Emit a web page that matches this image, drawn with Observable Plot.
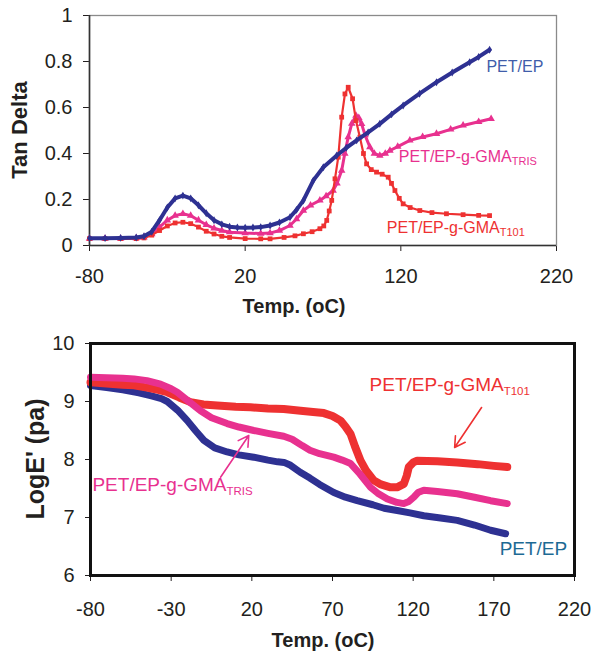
<!DOCTYPE html>
<html><head><meta charset="utf-8">
<script src="https://cdn.jsdelivr.net/npm/d3@7"></script>
<script src="https://cdn.jsdelivr.net/npm/@observablehq/plot@0.6"></script>
<style>
body{margin:0;background:#fff;}
#wrap{width:591px;height:655px;}
#wrap svg{display:block;}
</style></head><body><div id="wrap"></div>
<script>
// ---------- data (temperature °C, value) ----------
const tempTicksTop = [-80, 20, 120, 220];
const tanTicks = [0, 0.2, 0.4, 0.6, 0.8, 1];
const tempTicksBottom = [-80, -30, 20, 70, 120, 170, 220];
const logTicks = [6, 7, 8, 9, 10];

const tanPETEP = [[-80,0.032],[-70,0.032],[-60,0.033],[-50,0.035],[-45,0.04],[-40,0.06],[-35,0.11],[-30,0.165],[-25,0.205],[-20,0.217],[-15,0.205],[-10,0.175],[-5,0.14],[0,0.11],[5,0.092],[10,0.082],[15,0.078],[20,0.077],[25,0.078],[30,0.08],[36,0.087],[42,0.1],[48.8,0.123],[53,0.155],[57.4,0.196],[63.8,0.283],[70.2,0.34],[78.8,0.391],[85,0.425],[91.6,0.457],[99,0.492],[106.5,0.529],[114,0.57],[121.5,0.609],[132,0.66],[142.9,0.71],[153,0.752],[164.2,0.797],[170,0.82],[177,0.851]];
const tanTRIS = [[-80,0.03],[-70,0.03],[-60,0.03],[-50,0.032],[-45,0.036],[-40,0.05],[-35,0.08],[-30,0.11],[-25,0.13],[-20,0.138],[-15,0.13],[-10,0.11],[-5,0.09],[0,0.075],[5,0.065],[10,0.058],[20,0.054],[30,0.052],[36,0.054],[42,0.065],[48.8,0.087],[53,0.115],[57.4,0.152],[62,0.175],[68,0.196],[72,0.215],[76.5,0.239],[79,0.27],[82,0.326],[84,0.4],[86.2,0.471],[88.5,0.53],[91.2,0.565],[93,0.555],[94.8,0.529],[97,0.48],[100.1,0.428],[103,0.4],[106.5,0.391],[110,0.4],[113,0.413],[118,0.43],[125.8,0.457],[134,0.472],[142.9,0.486],[152,0.505],[160,0.522],[170,0.538],[178,0.551]];
const tanT101 = [[-80,0.03],[-70,0.03],[-60,0.03],[-50,0.03],[-45,0.033],[-40,0.045],[-35,0.065],[-30,0.085],[-25,0.098],[-20,0.101],[-15,0.095],[-10,0.08],[-5,0.062],[0,0.05],[5,0.04],[10,0.035],[20,0.03],[30,0.029],[36,0.029],[45,0.035],[52,0.042],[57.4,0.051],[63,0.06],[68,0.073],[70.5,0.085],[72.4,0.109],[74,0.15],[75.6,0.196],[77.7,0.29],[79.8,0.384],[82,0.558],[84.1,0.659],[86.2,0.688],[89,0.638],[91.2,0.543],[93.7,0.471],[96,0.4],[98,0.355],[101,0.33],[104.4,0.319],[108,0.31],[111.9,0.297],[114,0.27],[116.2,0.239],[119,0.205],[121.5,0.181],[126,0.165],[132.2,0.152],[140,0.143],[149.3,0.138],[160,0.134],[170,0.131],[177,0.13]];

const logPETEP = [[-80,9.276],[-70,9.24],[-60,9.2],[-50,9.15],[-42.8,9.1],[-36,9.05],[-32.4,9.0],[-26,8.85],[-20,8.67],[-15,8.5],[-9.7,8.33],[-3,8.2],[4.7,8.13],[12,8.08],[21.2,8.04],[30,7.99],[36,7.96],[40,7.95],[44,7.9],[50,7.78],[56,7.68],[62,7.57],[70.8,7.43],[78,7.35],[85.3,7.29],[95,7.22],[102,7.16],[110.1,7.12],[118,7.08],[126.6,7.03],[137,6.99],[147.3,6.95],[158,6.87],[168,6.78],[177.3,6.72]];
const logTRIS = [[-80,9.42],[-70,9.41],[-60,9.4],[-53,9.39],[-45,9.36],[-36.6,9.3],[-30,9.22],[-26.2,9.16],[-20,9.02],[-11.8,8.84],[-5,8.72],[4.7,8.62],[12,8.56],[21.2,8.5],[30,8.45],[39.8,8.4],[45,8.35],[51.2,8.24],[56,8.16],[62,8.1],[70.8,8.04],[76,7.99],[81.2,7.93],[87,7.75],[93.6,7.52],[98,7.42],[104,7.32],[110,7.26],[114.2,7.24],[117,7.27],[120.4,7.35],[123,7.43],[126.6,7.47],[135,7.45],[147.3,7.41],[158,7.35],[168,7.29],[178.3,7.24]];
const logT101 = [[-80,9.33],[-70,9.31],[-60,9.29],[-53,9.28],[-45,9.24],[-38,9.2],[-32.4,9.16],[-25,9.07],[-18,8.99],[-10,8.95],[-1.5,8.93],[10,8.91],[19.2,8.9],[30,8.88],[39.8,8.87],[50.2,8.84],[58,8.82],[64.6,8.8],[70,8.75],[75,8.67],[78,8.57],[81.2,8.44],[84,8.22],[87.4,7.98],[91,7.8],[95.6,7.64],[100,7.57],[106,7.52],[110,7.52],[114.2,7.58],[116,7.72],[117.3,7.87],[120,7.95],[122.5,7.98],[135,7.97],[147.3,7.95],[160,7.92],[170,7.89],[178.3,7.87]];

// annotation labels (text | subscript) with anchor positions in data units
const topLabels = [
  {t: 175, v: 0.778, text: "PET/EP", color: "#3f5daa"},
  {t: 118.7, v: 0.387, text: "PET/EP-g-GMA|TRIS", color: "#e8318f"},
  {t: 111, v: 0.078, text: "PET/EP-g-GMA|T101", color: "#ee3131"}
];
const bottomLabels = [
  {t: 93, v: 9.293, text: "PET/EP-g-GMA|T101", color: "#ee3131"},
  {t: -78.8, v: 7.569, text: "PET/EP-g-GMA|TRIS", color: "#e8318f"},
  {t: 173.6, v: 6.466, text: "PET/EP", color: "#1d6a94"}
];
const bottomArrows = [
  {t1: 162.4, v1: 8.897, t2: 145.7, v2: 8.207, color: "#ee3131"},
  {t1: 0.6, v1: 7.695, t2: 18.1, v2: 8.414, color: "#e8318f"}
];

// ---------- drawing ----------
const FONT = "'Liberation Sans', Arial, Helvetica, sans-serif";
const BLUE = "#2e3192", PINK = "#e8318f", RED = "#ee3131";
const rows = a => a.map(([t, v]) => ({t, v}));
const fmt = d => String(d);

const topChart = Plot.plot({
  width: 591, height: 320,
  marginLeft: 89, marginRight: 35, marginTop: 15, marginBottom: 75,
  style: {fontFamily: FONT, fontSize: "20px", color: "#231f20", background: "white", overflow: "visible"},
  x: {domain: [-80, 220], ticks: tempTicksTop, tickSize: 6, tickPadding: 17, tickFormat: fmt, label: null},
  y: {domain: [0, 1], ticks: tanTicks, tickSize: 6, tickPadding: 11, tickFormat: fmt, label: null},
  marks: [
    Plot.frame({stroke: "#8a8a8a", strokeWidth: 1.3}),
    Plot.ruleX([-80], {stroke: "#333", strokeWidth: 1.6}),
    Plot.ruleY([0], {stroke: "#333", strokeWidth: 1.6}),
    Plot.line(rows(tanTRIS), {x: "t", y: "v", stroke: PINK, strokeWidth: 3}),
    Plot.dot(rows(tanTRIS), {x: "t", y: "v", symbol: "triangle", r: 2.8, fill: PINK}),
    Plot.line(rows(tanT101), {x: "t", y: "v", stroke: RED, strokeWidth: 2.2}),
    Plot.dot(rows(tanT101), {x: "t", y: "v", symbol: "square", r: 2.7, fill: RED}),
    Plot.line(rows(tanPETEP), {x: "t", y: "v", stroke: BLUE, strokeWidth: 4}),
    Plot.dot(rows(tanPETEP), {x: "t", y: "v", symbol: "diamond", r: 2.4, fill: BLUE}),
    Plot.text(topLabels, {x: "t", y: "v", text: "text", fill: "color", textAnchor: "start", fontSize: 16})
  ]
});

const bottomChart = Plot.plot({
  width: 591, height: 335,
  marginLeft: 90, marginRight: 17, marginTop: 23, marginBottom: 80,
  style: {fontFamily: FONT, fontSize: "20px", color: "#231f20", background: "white", overflow: "visible"},
  x: {domain: [-80, 220], ticks: tempTicksBottom, tickSize: 6, tickPadding: 20, tickFormat: fmt, label: null},
  y: {domain: [6, 10], ticks: logTicks, tickSize: 5, tickPadding: 11, tickFormat: fmt, label: null},
  marks: [
    Plot.line(rows(logPETEP), {x: "t", y: "v", stroke: BLUE, strokeWidth: 7}),
    Plot.line(rows(logT101), {x: "t", y: "v", stroke: RED, strokeWidth: 8}),
    Plot.line(rows(logTRIS), {x: "t", y: "v", stroke: PINK, strokeWidth: 7}),
    Plot.frame({stroke: "#111", strokeWidth: 3}),
    Plot.arrow(bottomArrows, {x1: "t1", y1: "v1", x2: "t2", y2: "v2", stroke: "color", strokeWidth: 1.6, headLength: 11}),
    Plot.text(bottomLabels, {x: "t", y: "v", text: "text", fill: "color", textAnchor: "start", fontSize: 19})
  ]
});

function addSubscripts(svg, subSize, subDy) {
  d3.select(svg).selectAll("text").each(function () {
    const s = this.textContent;
    if (s.includes("|")) {
      const [a, b] = s.split("|");
      this.textContent = a;
      d3.select(this).append("tspan").attr("font-size", subSize).attr("dy", subDy).text(b);
    }
  });
}
addSubscripts(topChart, 11, 3);
addSubscripts(bottomChart, 11.5, 4);

function addTitle(svg, txt, x, y, size, rotate) {
  const t = d3.select(svg).append("text")
    .attr("font-family", FONT).attr("font-weight", "bold").attr("font-size", size)
    .attr("fill", "#231f20").attr("text-anchor", "middle")
    .attr("transform", `translate(${x},${y})` + (rotate ? " rotate(-90)" : ""))
    .text(txt);
}
addTitle(topChart, "Tan Delta", 27, 130, 22, true);
addTitle(topChart, "Temp. (oC)", 294, 313, 20, false);
addTitle(bottomChart, "LogE' (pa)", 44, 139, 25, true);
addTitle(bottomChart, "Temp. (oC)", 323, 327, 20, false);

document.getElementById("wrap").append(topChart, bottomChart);
</script></body></html>
